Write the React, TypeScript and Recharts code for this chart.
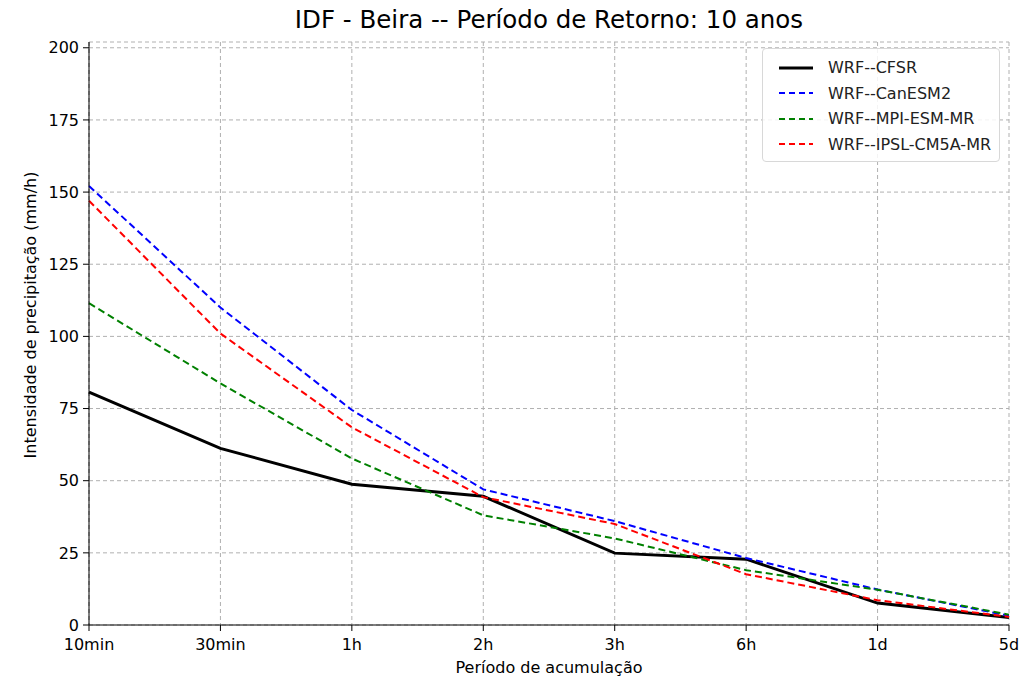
import { LineChart, Line, XAxis, YAxis, CartesianGrid } from 'recharts';

const categories = ['10min', '30min', '1h', '2h', '3h', '6h', '1d', '5d'];
const cfsr = [80.7, 61.2, 48.8, 44.6, 24.9, 22.8, 7.6, 2.6];
const canesm2 = [152.1, 110, 74.5, 47, 36, 23.2, 12.3, 3.2];
const mpiEsm = [111.5, 83.7, 57.7, 38, 30, 19, 12.2, 3.6];
const ipsl = [147, 101, 68.5, 44.3, 35, 17.6, 8.6, 2.8];
const yTicks = [0, 25, 50, 75, 100, 125, 150, 175, 200];

const series = [
  { key: 'cfsr', name: 'WRF--CFSR', color: '#000000', width: 3, dash: undefined },
  { key: 'canesm2', name: 'WRF--CanESM2', color: '#0000ff', width: 2, dash: '7 4' },
  { key: 'mpi', name: 'WRF--MPI-ESM-MR', color: '#008000', width: 2, dash: '7 4' },
  { key: 'ipsl', name: 'WRF--IPSL-CM5A-MR', color: '#ff0000', width: 2, dash: '7 4' },
];

const data = categories.map((c, i) => ({
  name: c,
  cfsr: cfsr[i],
  canesm2: canesm2[i],
  mpi: mpiEsm[i],
  ipsl: ipsl[i],
}));

const FONT = '"DejaVu Sans", sans-serif';

export default function App() {
  return (
    <div style={{ position: 'absolute', left: 0, top: 0, width: 1032, height: 680, fontFamily: FONT, background: '#fff' }}>
      <div style={{ position: 'absolute', left: 89, width: 920, top: 5, textAlign: 'center', fontSize: 24.5, color: '#000' }}>
        IDF - Beira -- Período de Retorno: 10 anos
      </div>
      <LineChart width={1032} height={680} data={data} margin={{ top: 42, right: 23, left: 0, bottom: 0 }}>
        <CartesianGrid stroke="#b0b0b0" strokeDasharray="4 3" />
        <XAxis
          dataKey="name"
          height={55}
          stroke="#000"
          tickSize={6}
          tickMargin={8}
          interval={0}
          tick={{ fontSize: 16, fill: '#000', fontFamily: FONT }}
        />
        <XAxis xAxisId="top" dataKey="name" orientation="top" height={0} tick={false} stroke="#a8a8a8" strokeWidth={2} />
        <YAxis
          width={89}
          domain={[0, 202]}
          ticks={yTicks}
          stroke="#000"
          tickSize={6}
          tickMargin={4}
          tick={{ fontSize: 16, fill: '#000', fontFamily: FONT }}
        />
        <YAxis yAxisId="right" orientation="right" width={0} domain={[0, 202]} tick={false} stroke="#a8a8a8" />
        {series.map((s) => (
          <Line
            key={s.key}
            dataKey={s.key}
            name={s.name}
            stroke={s.color}
            strokeWidth={s.width}
            strokeDasharray={s.dash}
            dot={false}
            activeDot={false}
            type="linear"
            isAnimationActive={false}
          />
        ))}
      </LineChart>
      <div style={{ position: 'absolute', left: 89, width: 920, top: 658, textAlign: 'center', fontSize: 16, color: '#000' }}>
        Período de acumulação
      </div>
      <div
        style={{
          position: 'absolute',
          left: 30,
          top: 315,
          transform: 'translate(-50%, -50%) rotate(-90deg)',
          whiteSpace: 'nowrap',
          fontSize: 16,
          color: '#000',
        }}
      >
        Intensidade de precipitação (mm/h)
      </div>
      <div
        style={{
          position: 'absolute',
          left: 762,
          top: 48,
          width: 238,
          height: 114,
          boxSizing: 'border-box',
          border: '1px solid #d8d8d8',
          borderRadius: 4,
          background: 'rgba(255,255,255,0.85)',
          padding: '6px 0 0 15px',
        }}
      >
        {series.map((s) => (
          <div key={s.key} style={{ display: 'flex', alignItems: 'center', height: 25.5, fontSize: 16 }}>
            <svg width={36} height={8} style={{ marginRight: 14 }}>
              <line x1={1} y1={4} x2={35} y2={4} stroke={s.color} strokeWidth={s.width} strokeDasharray={s.dash ? '6 4' : undefined} />
            </svg>
            <span style={{ color: '#222' }}>{s.name}</span>
          </div>
        ))}
      </div>
    </div>
  );
}
